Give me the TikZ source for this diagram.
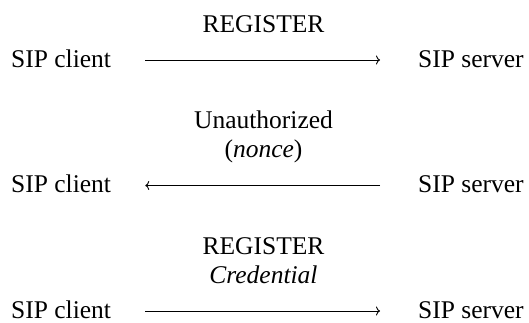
\documentclass[tikz,border=0pt]{standalone}
\usepackage{fontspec}
\setmainfont{Liberation Serif}
\usetikzlibrary{arrows.meta}
\begin{document}
\begin{tikzpicture}[x=1pt,y=1pt,
  ent/.style={inner sep=0pt,anchor=base west,font=\fontsize{25.5}{29.5}\selectfont},
  lbl/.style={inner sep=0pt,anchor=base,font=\fontsize{25.5}{29.5}\selectfont},
  msg/.style={line width=0.9pt,-{To[length=4pt,width=9pt]}}]
\useasboundingbox (0,0) rectangle (529,-322);
% row 1
\node[ent] (c1) at (11,-67) {SIP client};
\node[ent] (s1) at (418,-67) {SIP server};
\node[lbl] (l1) at (263.5,-32) {REGISTER};
\draw[msg] ([xshift=34pt,yshift=7pt]c1.base east) -- ([xshift=-38pt,yshift=7pt]s1.base west);
% row 2
\node[ent] (c2) at (11,-192.5) {SIP client};
\node[ent] (s2) at (418,-192.5) {SIP server};
\node[lbl] (l2a) at (263.5,-128) {Unauthorized};
\node[lbl] (l2b) at (263.5,-157.5) {(\textit{nonce})};
\draw[msg] ([xshift=-38pt,yshift=7pt]s2.base west) -- ([xshift=34pt,yshift=7pt]c2.base east);
% row 3
\node[ent] (c3) at (11,-318) {SIP client};
\node[ent] (s3) at (418,-318) {SIP server};
\node[lbl] (l3a) at (263.5,-254) {REGISTER};
\node[lbl] (l3b) at (263.5,-283.5) {\textit{Credential}};
\draw[msg] ([xshift=34pt,yshift=7pt]c3.base east) -- ([xshift=-38pt,yshift=7pt]s3.base west);
\end{tikzpicture}
\end{document}
